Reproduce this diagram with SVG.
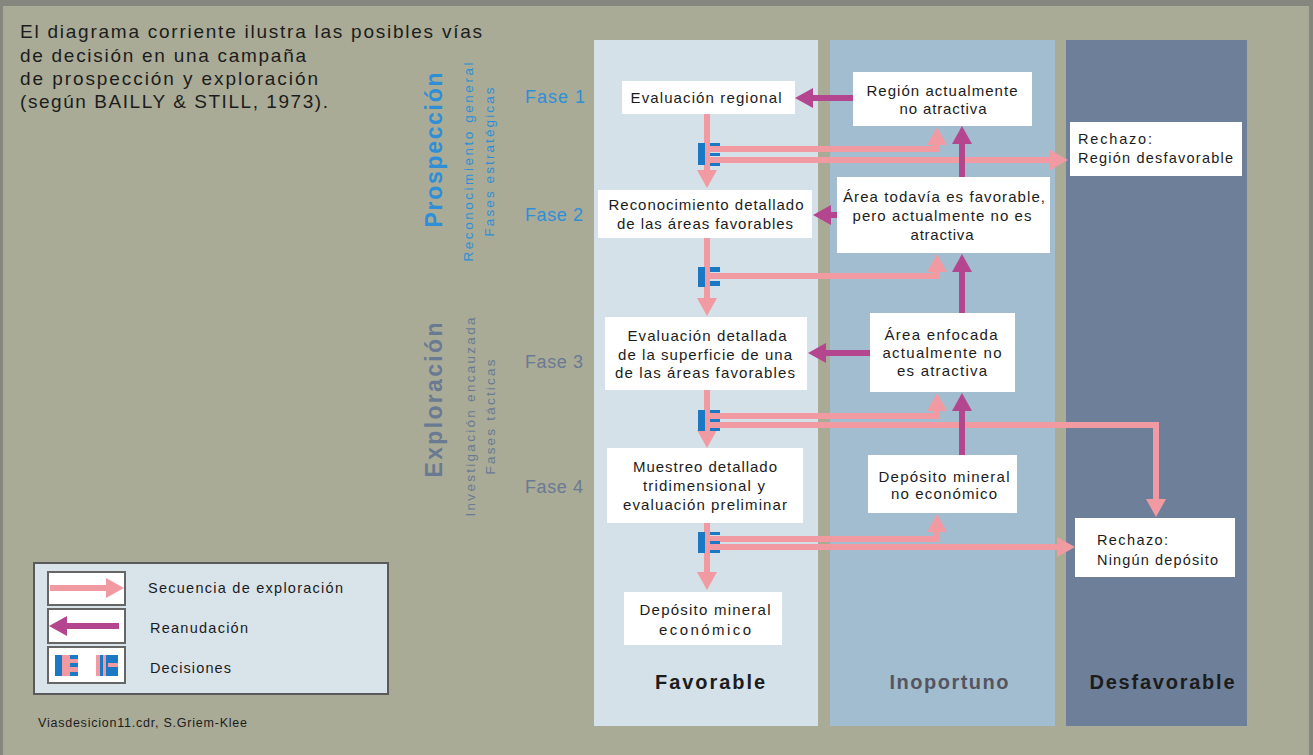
<svg xmlns="http://www.w3.org/2000/svg" width="1313" height="755" viewBox="0 0 1313 755">
<style>
text{font-family:"Liberation Sans",Arial,sans-serif;}
.t{font-size:19px;fill:#1c1c1c;}
.bx{font-size:15px;fill:#1c1c1c;text-anchor:middle;}
.bl{font-size:14.5px;fill:#1c1c1c;}
.box{fill:#ffffff;}
.pk{fill:none;stroke:#f29aa2;stroke-width:6;stroke-linejoin:miter;}
.mg{fill:none;stroke:#b4458f;stroke-width:6;}
.blue{fill:#1a78c4;}
.fb{font-size:18px;fill:#2e8fd6;}
.fg{font-size:18px;fill:#6a7a92;}
.col{font-size:20px;font-weight:bold;text-anchor:middle;}
</style>
<defs>
<marker id="ap" markerUnits="userSpaceOnUse" markerWidth="18" markerHeight="20" refX="2" refY="10" orient="auto"><path d="M0,0 L18,10 L0,20 z" fill="#f29aa2"/></marker>
<marker id="am" markerUnits="userSpaceOnUse" markerWidth="18" markerHeight="20" refX="2" refY="10" orient="auto"><path d="M0,0 L18,10 L0,20 z" fill="#b4458f"/></marker>
</defs>
<rect x="0" y="0" width="1313" height="755" fill="#85867e"/>
<rect x="3" y="6" width="1306" height="749" fill="#a9ab97"/>

<g id="title">
<text class="t" x="20" y="38" textLength="462" lengthAdjust="spacing">El diagrama corriente ilustra las posibles vías</text>
<text class="t" x="20" y="62" textLength="286" lengthAdjust="spacing">de decisión en una campaña</text>
<text class="t" x="20" y="85" textLength="298" lengthAdjust="spacing">de prospección y exploración</text>
<text class="t" x="20" y="108" textLength="308" lengthAdjust="spacing">(según BAILLY &amp; STILL, 1973).</text>
</g>

<g id="columns">
<rect x="594" y="40" width="224" height="686" fill="#d5e1e9"/>
<rect x="830" y="40" width="225" height="686" fill="#a3bdd0"/>
<rect x="1066" y="40" width="181" height="686" fill="#6e8099"/>
<text class="col" x="710" y="689" fill="#1c1c1c" textLength="110" lengthAdjust="spacing">Favorable</text>
<text class="col" x="949" y="689" fill="#55555f" textLength="119" lengthAdjust="spacing">Inoportuno</text>
<text class="col" x="1162" y="689" fill="#1c1c1c" textLength="145" lengthAdjust="spacing">Desfavorable</text>
</g>

<g id="side-labels">
<text transform="translate(442,150) rotate(-90)" text-anchor="middle" font-size="23" font-weight="bold" fill="#2e8fd6" textLength="155" lengthAdjust="spacing">Prospección</text>
<text transform="translate(473,162) rotate(-90)" text-anchor="middle" font-size="13.5" fill="#2e8fd6" textLength="199" lengthAdjust="spacing">Reconocimiento general</text>
<text transform="translate(494,162) rotate(-90)" text-anchor="middle" font-size="13.5" fill="#2e8fd6" textLength="149" lengthAdjust="spacing">Fases estratégicas</text>
<text transform="translate(442,400) rotate(-90)" text-anchor="middle" font-size="23" font-weight="bold" fill="#6a7a92" textLength="155" lengthAdjust="spacing">Exploración</text>
<text transform="translate(475,417) rotate(-90)" text-anchor="middle" font-size="13.5" fill="#6a7a92" textLength="199" lengthAdjust="spacing">Investigación encauzada</text>
<text transform="translate(495,417) rotate(-90)" text-anchor="middle" font-size="13.5" fill="#6a7a92" textLength="115" lengthAdjust="spacing">Fases tácticas</text>
<text class="fb" x="525" y="103" textLength="60" lengthAdjust="spacing">Fase 1</text>
<text class="fb" x="525" y="221" textLength="58" lengthAdjust="spacing">Fase 2</text>
<text class="fg" x="525" y="368" textLength="58" lengthAdjust="spacing">Fase 3</text>
<text class="fg" x="525" y="493" textLength="58" lengthAdjust="spacing">Fase 4</text>
</g>

<g id="connectors">
<path class="pk" d="M707,114 V172" marker-end="url(#ap)"/>
<path class="pk" d="M708,149 H937 V143" marker-end="url(#ap)"/>
<path class="pk" d="M708,160 H1052" marker-end="url(#ap)"/>
<path class="pk" d="M707,238 V300" marker-end="url(#ap)"/>
<path class="pk" d="M708,276 H937 V270" marker-end="url(#ap)"/>
<path class="pk" d="M707,390 V432" marker-end="url(#ap)"/>
<path class="pk" d="M708,416 H937 V409" marker-end="url(#ap)"/>
<path class="pk" d="M708,425 H1156 V501" marker-end="url(#ap)"/>
<path class="pk" d="M707,523 V574" marker-end="url(#ap)"/>
<path class="pk" d="M708,539 H937 V530" marker-end="url(#ap)"/>
<path class="pk" d="M708,547 H1059" marker-end="url(#ap)"/>
<path class="mg" d="M853,98 H811" marker-end="url(#am)"/>
<path class="mg" d="M962,177 V142" marker-end="url(#am)"/>
<path class="mg" d="M837,215 H829" marker-end="url(#am)"/>
<path class="mg" d="M962,313 V270" marker-end="url(#am)"/>
<path class="mg" d="M870,353 H824" marker-end="url(#am)"/>
<path class="mg" d="M962,455 V409" marker-end="url(#am)"/>
</g>

<g id="decision1">
<rect class="blue" x="698" y="143" width="7" height="22"/>
<rect class="blue" x="710" y="143" width="10" height="3"/>
<rect class="blue" x="710" y="153" width="10" height="3"/>
<rect class="blue" x="710" y="163" width="10" height="3"/>
</g>
<g id="decision2">
<rect class="blue" x="698" y="267" width="7" height="20"/>
<rect class="blue" x="710" y="267" width="10" height="5"/>
<rect class="blue" x="710" y="281" width="10" height="5"/>
</g>
<g id="decision3">
<rect class="blue" x="698" y="410" width="7" height="21"/>
<rect class="blue" x="710" y="410" width="10" height="3"/>
<rect class="blue" x="710" y="419" width="10" height="3"/>
<rect class="blue" x="710" y="428" width="10" height="3"/>
</g>
<g id="decision4">
<rect class="blue" x="698" y="532" width="7" height="21"/>
<rect class="blue" x="710" y="532" width="10" height="3"/>
<rect class="blue" x="710" y="541" width="10" height="3"/>
<rect class="blue" x="710" y="550" width="10" height="3"/>
</g>

<g id="n-eval-regional">
<rect class="box" x="622" y="81" width="173" height="33"/>
<text class="bx" x="706" y="103" textLength="151" lengthAdjust="spacing">Evaluación regional</text>
</g>
<g id="n-region-no-atractiva">
<rect class="box" x="853" y="72" width="179" height="54"/>
<text class="bx" x="942" y="96" textLength="151" lengthAdjust="spacing">Región actualmente</text>
<text class="bx" x="943" y="114" textLength="87" lengthAdjust="spacing">no atractiva</text>
</g>
<g id="n-rechazo-region">
<rect class="box" x="1070" y="122" width="172" height="54"/>
<text class="bl" x="1078" y="144" textLength="74" lengthAdjust="spacing">Rechazo:</text>
<text class="bl" x="1078" y="163" textLength="155" lengthAdjust="spacing">Región desfavorable</text>
</g>
<g id="n-reconocimiento">
<rect class="box" x="598" y="190" width="214" height="48"/>
<text class="bx" x="706" y="210" textLength="195" lengthAdjust="spacing">Reconocimiento detallado</text>
<text class="bx" x="705" y="229" textLength="176" lengthAdjust="spacing">de las áreas favorables</text>
</g>
<g id="n-area-todavia">
<rect class="box" x="837" y="177" width="213" height="76"/>
<text class="bx" x="944" y="202" textLength="202" lengthAdjust="spacing">Área todavía es favorable,</text>
<text class="bx" x="942" y="221" textLength="179" lengthAdjust="spacing">pero actualmente no es</text>
<text class="bx" x="942" y="240" textLength="63" lengthAdjust="spacing">atractiva</text>
</g>
<g id="n-eval-detallada">
<rect class="box" x="605" y="317" width="202" height="73"/>
<text class="bx" x="707" y="341" textLength="159" lengthAdjust="spacing">Evaluación detallada</text>
<text class="bx" x="705" y="360" textLength="174" lengthAdjust="spacing">de la superficie de una</text>
<text class="bx" x="705" y="378" textLength="180" lengthAdjust="spacing">de las áreas favorables</text>
</g>
<g id="n-area-enfocada">
<rect class="box" x="870" y="313" width="145" height="79"/>
<text class="bx" x="941" y="340" textLength="113" lengthAdjust="spacing">Área enfocada</text>
<text class="bx" x="942" y="358" textLength="119" lengthAdjust="spacing">actualmente no</text>
<text class="bx" x="942" y="376" textLength="90" lengthAdjust="spacing">es atractiva</text>
</g>
<g id="n-muestreo">
<rect class="box" x="607" y="448" width="196" height="75"/>
<text class="bx" x="705" y="472" textLength="144" lengthAdjust="spacing">Muestreo detallado</text>
<text class="bx" x="704" y="491" textLength="122" lengthAdjust="spacing">tridimensional y</text>
<text class="bx" x="705" y="510" textLength="164" lengthAdjust="spacing">evaluación preliminar</text>
</g>
<g id="n-deposito-no-economico">
<rect class="box" x="868" y="455" width="149" height="58"/>
<text class="bx" x="944" y="482" textLength="131" lengthAdjust="spacing">Depósito mineral</text>
<text class="bx" x="944" y="499" textLength="106" lengthAdjust="spacing">no económico</text>
</g>
<g id="n-rechazo-ningun">
<rect class="box" x="1075" y="518" width="160" height="59"/>
<text class="bl" x="1097" y="545" textLength="71" lengthAdjust="spacing">Rechazo:</text>
<text class="bl" x="1097" y="565" textLength="121" lengthAdjust="spacing">Ningún depósito</text>
</g>
<g id="n-deposito-economico">
<rect class="box" x="624" y="592" width="158" height="53"/>
<text class="bx" x="705" y="615" font-size="14.5" textLength="131" lengthAdjust="spacing">Depósito mineral</text>
<text class="bx" x="705" y="635" font-size="14.5" textLength="92" lengthAdjust="spacing">económico</text>
</g>

<g id="legend">
<rect x="34" y="563" width="354" height="131" fill="#d8e3ea" stroke="#5a5a5a" stroke-width="2"/>
<rect x="48" y="572" width="77" height="33" fill="#fff" stroke="#666" stroke-width="2"/>
<rect x="48" y="609" width="77" height="34" fill="#fff" stroke="#666" stroke-width="2"/>
<rect x="48" y="647" width="77" height="36" fill="#fff" stroke="#666" stroke-width="2"/>
<path class="pk" d="M50,588 H108" marker-end="url(#ap)"/>
<path class="mg" d="M119,626 H65" marker-end="url(#am)"/>
<rect class="blue" x="55" y="655" width="7" height="21"/>
<rect x="62" y="655" width="8" height="21" fill="#f29aa2"/>
<rect class="blue" x="70" y="655" width="8" height="4"/>
<rect x="70" y="659" width="8" height="4" fill="#f29aa2"/>
<rect class="blue" x="70" y="663" width="8" height="4"/>
<rect x="70" y="667" width="8" height="5" fill="#f29aa2"/>
<rect class="blue" x="70" y="672" width="8" height="4"/>
<rect x="96" y="655" width="4" height="21" fill="#f29aa2"/>
<rect class="blue" x="100" y="655" width="18" height="21"/>
<rect x="103" y="655" width="3" height="21" fill="#f29aa2"/>
<rect x="108" y="663" width="10" height="4" fill="#f29aa2"/>
<text class="bl" x="148" y="593" textLength="195" lengthAdjust="spacing">Secuencia de exploración</text>
<text class="bl" x="150" y="633" textLength="98" lengthAdjust="spacing">Reanudación</text>
<text class="bl" x="150" y="673" textLength="81" lengthAdjust="spacing">Decisiones</text>
</g>
<text x="38" y="727" font-size="12.5" fill="#1c1c1c" textLength="209" lengthAdjust="spacing">Viasdesicion11.cdr, S.Griem-Klee</text>
</svg>
